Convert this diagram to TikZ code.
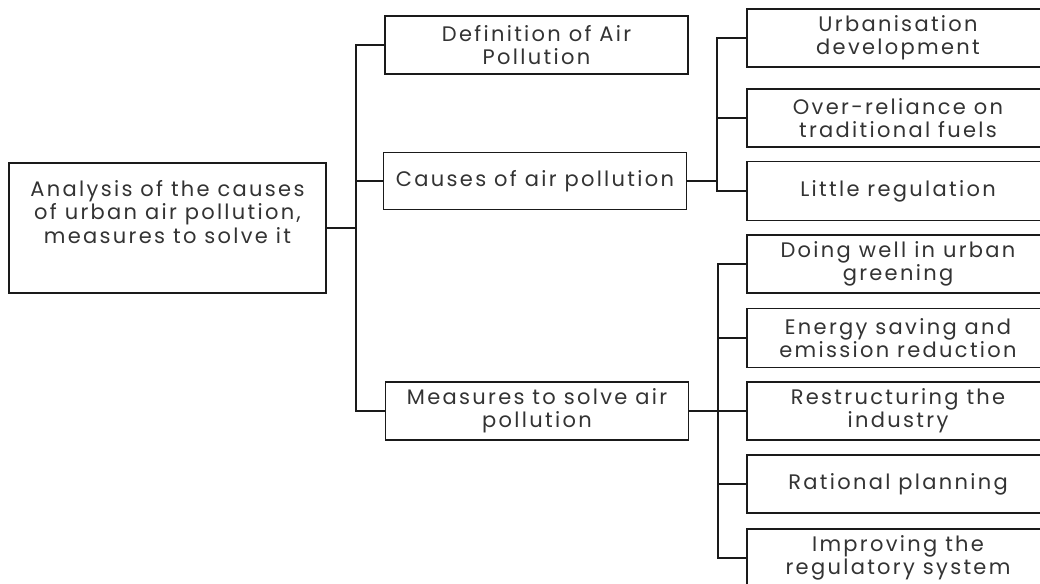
\documentclass[tikz,border=0pt]{standalone}
\usepackage{fontspec}
\setmainfont[LetterSpace=11]{Poppins}
\usetikzlibrary{positioning,calc}
\definecolor{lnblack}{HTML}{1A1A1A}
\definecolor{txgray}{HTML}{333333}
\tikzset{
  box/.style={draw=lnblack,line width=1.8pt,fill=white,align=center,font=\fontsize{21}{23.3}\selectfont,text=txgray,inner sep=0pt},
  mid/.style={box,minimum width=303pt,minimum height=58pt},
  leaf/.style={box,minimum width=302pt,minimum height=58pt},
  conn/.style={draw=lnblack,line width=1.8pt},
}
\begin{document}
\begin{tikzpicture}[x=1pt,y=-1pt]
  \useasboundingbox (0,0) rectangle (1040,583);
  \clip (0,0) rectangle (1040,583);
  % root
  \node[box,minimum width=317pt,minimum height=130pt] (root) at (167.5,228) {Analysis of the causes\\of urban air pollution,\\measures to solve it\\[9pt]\mbox{}};
  % second level
  \node[mid] (def) at (536.5,45) {Definition of Air\\Pollution};
  \node[mid,minimum height=57pt] (cau) at (535,181) {Causes of air pollution};
  \node[mid] (mea) at (537,411) {Measures to solve air\\pollution};
  % causes
  \node[leaf] (urb) at (898,38) {Urbanisation\\development};
  \node[leaf] (fuel) at (898,118) {Over-reliance on\\traditional fuels};
  \node[leaf,minimum height=59pt] (reg) at (898,191) {Little regulation};
  % measures
  \node[leaf] (green) at (898,264) {Doing well in urban\\greening};
  \node[leaf,minimum height=59pt] (ener) at (898,338) {Energy saving and\\emission reduction};
  \node[leaf] (ind) at (898,411) {Restructuring the\\industry};
  \node[leaf] (plan) at (898,484) {Rational planning};
  \node[leaf] (sys) at (898,558) {Improving the\\regulatory system};
  % connectors
  \coordinate (j1) at (356,228);
  \draw[conn] (root.east) -- (j1);
  \draw[conn] (def.west) -| (j1) |- (mea.west);
  \draw[conn] (cau.west) -- (cau.west -| j1);
  \coordinate (j2) at (717,181);
  \draw[conn] (cau.east) -- (j2);
  \draw[conn] (urb.west) -| (j2) |- (reg.west);
  \draw[conn] (fuel.west) -- (fuel.west -| j2);
  \coordinate (j3) at (718,411);
  \draw[conn] (mea.east) -- (j3) -- (ind.west);
  \draw[conn] (green.west) -| (j3) |- (sys.west);
  \draw[conn] (ener.west) -- (ener.west -| j3);
  \draw[conn] (plan.west) -- (plan.west -| j3);
\end{tikzpicture}
\end{document}
